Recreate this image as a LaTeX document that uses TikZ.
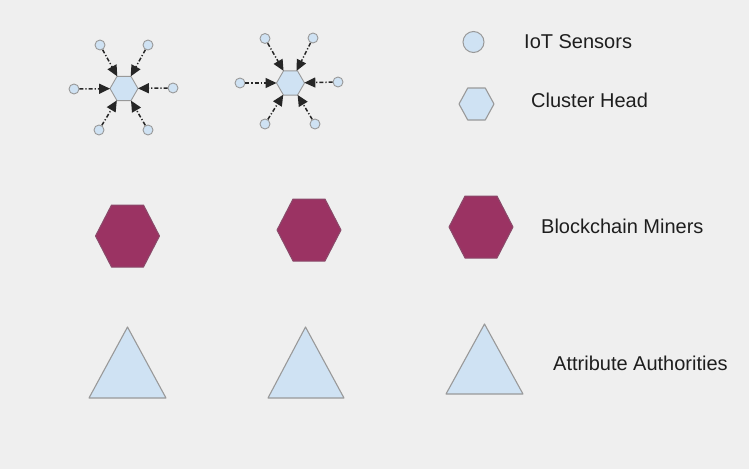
\documentclass[tikz,border=0pt]{standalone}
\usepackage{fontspec}
\setmainfont{Liberation Sans}
\usetikzlibrary{shapes.geometric,arrows.meta}
\definecolor{bgc}{HTML}{EFEFEF}
\definecolor{lblue}{HTML}{CFE2F3}
\definecolor{edgec}{HTML}{999999}
\definecolor{maroon}{HTML}{9B3363}
\definecolor{maroonedge}{HTML}{8A4A6A}
\definecolor{txt}{HTML}{1E1E1E}
\tikzset{
  sensor/.style={circle,draw=edgec,fill=lblue,line width=0.9pt,minimum size=10pt,inner sep=0pt},
  chead/.style={regular polygon,regular polygon sides=6,draw=edgec,fill=lblue,line width=0.9pt,minimum size=28pt,inner sep=0pt,outer sep=0pt},
  conn/.style={draw=black!85,line width=1.5pt,dash pattern=on 4pt off 2pt on 1.2pt off 2pt,-{Triangle[length=11pt,width=10pt]}},
  lab/.style={anchor=west,inner sep=0pt,text=txt,font=\fontsize{20}{24}\selectfont},
  lbshape/.style={draw=edgec,fill=lblue,line width=1.1pt,line join=round},
  mhshape/.style={draw=maroonedge,fill=maroon,line width=1pt,line join=round},
}
\begin{document}
\begin{tikzpicture}[x=1pt,y=-1pt]
\useasboundingbox[fill=bgc] (0,0) rectangle (749,469);

% cluster 1
\node[chead] (h1) at (124,88.5) {};
\node[sensor] (a1) at (100,45) {};
\node[sensor] (a2) at (148,45) {};
\node[sensor] (a3) at (74,89) {};
\node[sensor] (a4) at (173,88) {};
\node[sensor] (a5) at (99,130) {};
\node[sensor] (a6) at (148,130) {};
\foreach \s in {a1,a2,a3,a4,a5,a6} \draw[conn] (\s) -- (h1);

% cluster 2
\node[chead] (h2) at (290.5,83) {};
\node[sensor] (b1) at (265,38.5) {};
\node[sensor] (b2) at (313,38) {};
\node[sensor] (b3) at (240,83) {};
\node[sensor] (b4) at (338,82) {};
\node[sensor] (b5) at (265,124) {};
\node[sensor] (b6) at (315,124) {};
\foreach \s in {b1,b2,b3,b4,b5,b6} \draw[conn] (\s) -- (h2);

% legend: sensors and cluster head
\node[sensor,minimum size=21pt,line width=1pt] (ls) at (473.5,42) {};
\node[lab] (lst) at (524,42) {IoT Sensors};
\draw[lbshape] (459,104) -- (467.75,88) -- (485.25,88) -- (494,104) -- (485.25,120) -- (467.75,120) -- cycle;
\node[lab] (lch) at (531,100) {Cluster Head};

% blockchain miners
\draw[mhshape] (95.5,236) -- (111.5,205) -- (143.5,205) -- (159.5,236) -- (143.5,267) -- (111.5,267) -- cycle;
\draw[mhshape] (277,230) -- (293,199) -- (325,199) -- (341,230) -- (325,261) -- (293,261) -- cycle;
\draw[mhshape] (449,227) -- (465,196) -- (497,196) -- (513,227) -- (497,258) -- (465,258) -- cycle;
\node[lab] (lbm) at (541,226) {Blockchain Miners};

% attribute authorities
\draw[lbshape] (127.5,327) -- (166,398) -- (89,398) -- cycle;
\draw[lbshape] (305.5,327) -- (344,398) -- (268,398) -- cycle;
\draw[lbshape] (484.5,324) -- (523,394) -- (446,394) -- cycle;
\node[lab] (laa) at (553,363) {Attribute Authorities};
\end{tikzpicture}
\end{document}
